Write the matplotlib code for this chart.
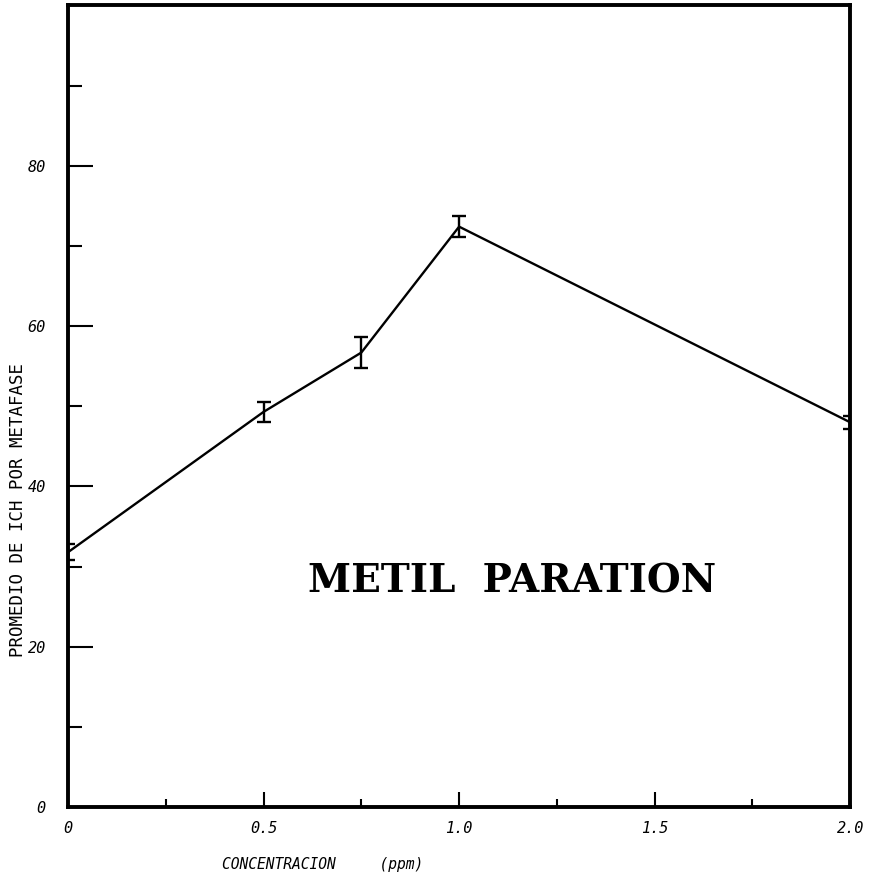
import matplotlib.pyplot as plt
from matplotlib.ticker import MultipleLocator, FixedLocator, FixedFormatter

# Datos
concentracion = [0, 0.5, 0.75, 1.0, 2.0]
promedio_ich = [31.8, 49.3, 56.7, 72.4, 48.0]
error_ich = [1.0, 1.2, 1.9, 1.3, 0.8]

x_ticks = [0, 0.5, 1.0, 1.5, 2.0]
x_etiquetas = ['0', '0.5', '1.0', '1.5', '2.0']
y_ticks = [0, 20, 40, 60, 80]
y_etiquetas = ['0', '20', '40', '60', '80']

fuente = ['DejaVu Sans Mono']

fig = plt.figure(figsize=(8.72, 8.89), dpi=100)
ax = fig.add_axes([0.078, 0.092, 0.897, 0.902])

ax.errorbar(concentracion, promedio_ich, yerr=error_ich, color='black',
            linewidth=1.7, elinewidth=1.7, capsize=5, capthick=1.7)

ax.set_xlim(0, 2.0)
ax.set_ylim(0, 100)

ax.xaxis.set_major_locator(FixedLocator(x_ticks))
ax.xaxis.set_major_formatter(FixedFormatter(x_etiquetas))
ax.xaxis.set_minor_locator(MultipleLocator(0.25))
ax.yaxis.set_major_locator(FixedLocator(y_ticks))
ax.yaxis.set_major_formatter(FixedFormatter(y_etiquetas))
ax.yaxis.set_minor_locator(MultipleLocator(10))

ax.tick_params(axis='x', which='major', direction='in', length=11, width=1.5, pad=10)
ax.tick_params(axis='x', which='minor', direction='in', length=6, width=1.5)
ax.tick_params(axis='y', which='major', direction='in', length=18, width=1.5, pad=16)
ax.tick_params(axis='y', which='minor', direction='in', length=10, width=1.5)

for lab in ax.get_xticklabels() + ax.get_yticklabels():
    lab.set_family(fuente)
    lab.set_style('italic')
    lab.set_fontsize(11)

for lado in ax.spines.values():
    lado.set_linewidth(2.8)

# Etiquetas de los ejes (posicion como en el original)
fig.text(0.37, 0.027, 'CONCENTRACION     (ppm)', family=fuente, style='italic',
         fontsize=10.5, ha='center', va='center')
fig.text(0.021, 0.426, 'PROMEDIO DE ICH POR METAFASE', family=fuente,
         fontsize=12.5, rotation=90, ha='center', va='center')

ax.text(1.135, 28.2, 'METIL  PARATION', family='DejaVu Serif', fontweight='bold',
        fontsize=28, ha='center', va='center')

plt.savefig('out.png', dpi=100)
